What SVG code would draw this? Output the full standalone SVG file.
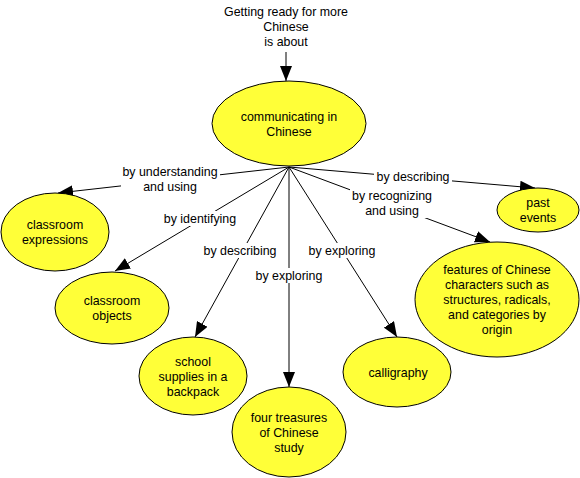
<svg xmlns="http://www.w3.org/2000/svg" width="580" height="478" viewBox="0 0 580 478">
<style>
text{font-family:"Liberation Sans",Arial,sans-serif;font-size:12.4px;fill:#000;text-anchor:middle}
.n{fill:#ffff38;stroke:#000;stroke-width:1}
.c{stroke:#000;stroke-width:1;fill:none;marker-end:url(#ah)}
.bg{fill:#fff}
</style>
<defs>
<marker id="ah" markerUnits="userSpaceOnUse" markerWidth="16" markerHeight="12" refX="15" refY="6" orient="auto" viewBox="0 0 16 12">
<path d="M0,0 L15,6 L0,12 Z" fill="#000"/>
</marker>
</defs>
<rect width="580" height="478" fill="#fff"/>
<g id="connectors">
<line class="c" x1="286" y1="52" x2="286" y2="81"/>
<line class="c" x1="289" y1="167" x2="58" y2="193"/>
<line class="c" x1="289" y1="167" x2="115" y2="271"/>
<line class="c" x1="289" y1="167" x2="195" y2="337"/>
<line class="c" x1="289" y1="167" x2="289" y2="387"/>
<line class="c" x1="289" y1="167" x2="397" y2="337"/>
<line class="c" x1="289" y1="167" x2="535" y2="188"/>
<line class="c" x1="289" y1="167" x2="490" y2="242"/>
</g>
<g id="labels">
<rect class="bg" x="121" y="163" width="99" height="29"/>
<text x="170" y="176">by understanding</text>
<text x="170" y="191">and using</text>
<rect class="bg" x="163" y="211" width="74" height="15"/>
<text x="200" y="223">by identifying</text>
<rect class="bg" x="202" y="243" width="76" height="15"/>
<text x="240" y="255">by describing</text>
<rect class="bg" x="253" y="268" width="72" height="15"/>
<text x="289" y="280">by exploring</text>
<rect class="bg" x="306" y="243" width="72" height="15"/>
<text x="342" y="255">by exploring</text>
<rect class="bg" x="374" y="169" width="78" height="15"/>
<text x="413" y="181">by describing</text>
<rect class="bg" x="350" y="188" width="84" height="30"/>
<text x="392" y="200">by recognizing</text>
<text x="392" y="215">and using</text>
</g>
<g id="top">
<text x="286" y="16">Getting ready for more</text>
<text x="286" y="31">Chinese</text>
<text x="286" y="46">is about</text>
</g>
<g id="n-center">
<ellipse class="n" cx="289" cy="123.5" rx="77" ry="42.5"/>
<text x="289" y="121">communicating in</text>
<text x="289" y="136">Chinese</text>
</g>
<g id="n-expressions">
<ellipse class="n" cx="55" cy="232" rx="54" ry="39"/>
<text x="55" y="229">classroom</text>
<text x="55" y="244">expressions</text>
</g>
<g id="n-objects">
<ellipse class="n" cx="112" cy="308" rx="57" ry="36"/>
<text x="112" y="305">classroom</text>
<text x="112" y="320">objects</text>
</g>
<g id="n-supplies">
<ellipse class="n" cx="193" cy="376" rx="54" ry="39"/>
<text x="193" y="366">school</text>
<text x="193" y="381">supplies in a</text>
<text x="193" y="396">backpack</text>
</g>
<g id="n-treasures">
<ellipse class="n" cx="289" cy="432" rx="57" ry="45"/>
<text x="289" y="422">four treasures</text>
<text x="289" y="437">of Chinese</text>
<text x="289" y="452">study</text>
</g>
<g id="n-calligraphy">
<ellipse class="n" cx="397" cy="372" rx="54" ry="35"/>
<text x="398" y="377">calligraphy</text>
</g>
<g id="n-past">
<ellipse class="n" cx="538" cy="210" rx="41" ry="22"/>
<text x="538" y="207">past</text>
<text x="538" y="222">events</text>
</g>
<g id="n-features">
<ellipse class="n" cx="497" cy="299.5" rx="82" ry="57.5"/>
<text x="497" y="274">features of Chinese</text>
<text x="497" y="289">characters such as</text>
<text x="497" y="304">structures, radicals,</text>
<text x="497" y="319">and categories by</text>
<text x="497" y="334">origin</text>
</g>
</svg>
